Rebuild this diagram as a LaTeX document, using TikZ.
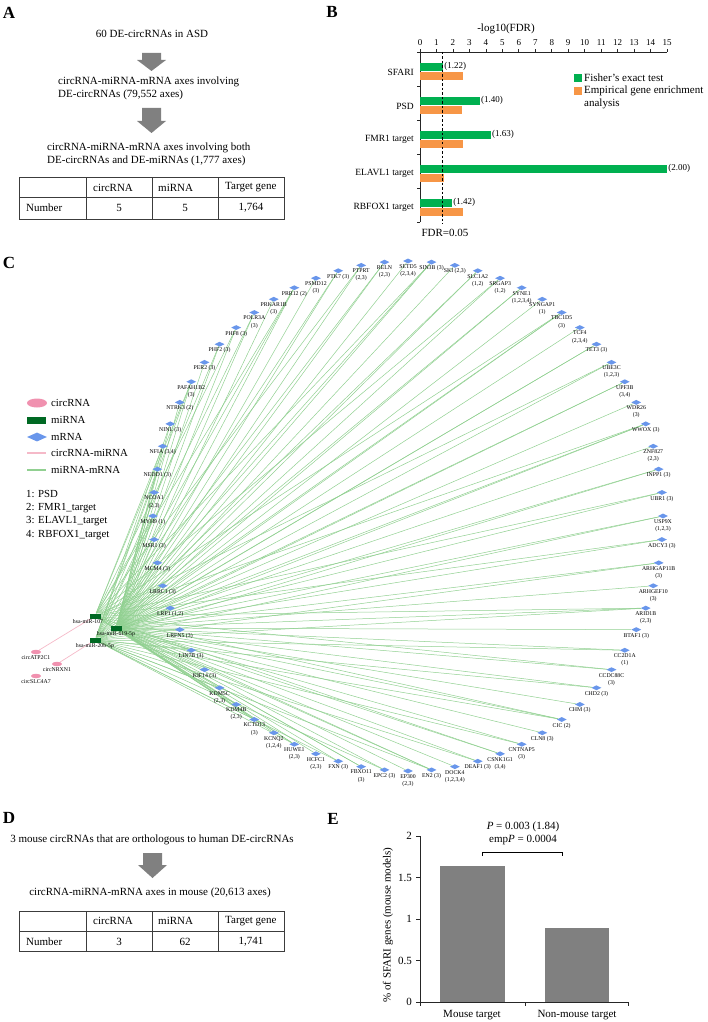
\documentclass[tikz,border=0pt]{standalone}
\usepackage{fontspec}
\setmainfont{Liberation Serif}
\usetikzlibrary{shapes.geometric,backgrounds}
\definecolor{fishgreen}{RGB}{0,176,80}
\definecolor{emporange}{RGB}{247,150,70}
\definecolor{circpink}{RGB}{240,145,175}
\definecolor{mirgreen}{RGB}{0,105,35}
\definecolor{mrnablue}{RGB}{105,150,235}
\definecolor{edgegreen}{RGB}{145,208,145}
\definecolor{edgepink}{RGB}{245,185,200}
\definecolor{arrowgray}{RGB}{128,128,128}
\definecolor{bargray}{RGB}{128,128,128}
\definecolor{tablegray}{RGB}{60,60,60}
\begin{document}
\begin{tikzpicture}[x=1pt,y=-1pt,
  panel/.style={font=\fontsize{17}{17}\selectfont\bfseries, inner sep=0},
  txt/.style={font=\fontsize{11}{13}\selectfont, inner sep=0},
  txtl/.style={font=\fontsize{11}{13}\selectfont, inner sep=0, align=left, anchor=west},
  tick/.style={font=\fontsize{9}{9}\selectfont, inner sep=0},
  cat/.style={font=\fontsize{9.5}{9.5}\selectfont, inner sep=0, anchor=east},
  val/.style={font=\fontsize{9}{9}\selectfont, inner sep=0, anchor=west},
  legtxt/.style={font=\fontsize{10.8}{10.8}\selectfont, inner sep=0, anchor=west},
  mrna/.style={diamond, fill=mrnablue, draw=none, minimum width=10pt, minimum height=5pt, inner sep=0},
  mirna/.style={rectangle, fill=mirgreen, draw=none, minimum width=11pt, minimum height=5pt, inner sep=0},
  circ/.style={ellipse, fill=circpink, draw=none, minimum width=10pt, minimum height=4.5pt, inner sep=0},
  mlab/.style={font=\fontsize{5.8}{7.2}\selectfont, inner sep=0.6pt, align=center, anchor=north},
  mmedge/.style={draw=edgegreen, line width=0.5pt},
  cmedge/.style={draw=edgepink, line width=0.7pt},
  tbl/.style={draw=tablegray, line width=0.9pt},
  axisline/.style={draw=black!85, line width=0.7pt}
]
\useasboundingbox (0,0) rectangle (708,1022);

% ---------------- Panel A ----------------
\node[panel] (pA) at (9,13) {A};
\node[txt] (a1) at (152,34) {60 DE-circRNAs in ASD};
\fill[arrowgray] (142,53) -- (161,53) -- (161,60) -- (166,60) -- (151.5,71) -- (137,60) -- (142,60) -- cycle;
\node[txtl] (a2) at (58,88.5) {circRNA-miRNA-mRNA axes involving\\DE-circRNAs (79,552 axes)};
\fill[arrowgray] (142,108) -- (161,108) -- (161,121) -- (166,121) -- (151.5,133) -- (137,121) -- (142,121) -- cycle;
\node[txtl] (a3) at (47,154) {circRNA-miRNA-mRNA axes involving both\\DE-circRNAs and DE-miRNAs (1,777 axes)};
\draw[tbl] (19,177) rectangle (284,219);
\draw[tbl] (19,197) -- (284,197);
\foreach \cx in {86,152,218} \draw[tbl] (\cx,177) -- (\cx,219);
\node[txt, anchor=west] (ah1) at (93,187.5) {circRNA};
\node[txt, anchor=west] (ah2) at (158,187.5) {miRNA};
\node[txt, anchor=west] (ah3) at (225,187.5) {Target gene};
\node[txt, anchor=west] (ar0) at (26,208) {Number};
\node[txt] (ar1) at (119,208) {5};
\node[txt] (ar2) at (185,208) {5};
\node[txt] (ar3) at (251,208) {1,764};

% ---------------- Panel B ----------------
\node[panel] (pB) at (332,12) {B};
\node[txt] (btitle) at (506,29) {-log10(FDR)};
\draw[axisline] (420,52) -- (667,52);
\draw[axisline] (420,52) -- (420,222);
\foreach \k in {0,...,15} {
  \draw[axisline] ({420+16.47*\k},52) -- ({420+16.47*\k},49);
  \node[tick] (bt\k) at ({420+16.47*\k},43) {\k};
}
\foreach \j in {0,...,5} \draw[axisline] (420,{52+34*\j}) -- (417,{52+34*\j});
% bars
\foreach \j/\g/\o in {0/1.4/2.6, 1/3.64/2.55, 2/4.3/2.6, 3/15/1.45, 4/1.95/2.6} {
  \fill[fishgreen] (420,{52+34*\j+11}) rectangle ({420+16.47*\g},{52+34*\j+19});
  \fill[emporange] (420,{52+34*\j+19.6}) rectangle ({420+16.47*\o},{52+34*\j+28});
}
\node[val] (bv0) at ({421+16.47*1.4},66) {(1.22)};
\node[val] (bv1) at ({421+16.47*3.64},100) {(1.40)};
\node[val] (bv2) at ({421+16.47*4.3},134) {(1.63)};
\node[val] (bv3) at ({421+16.47*15},168) {(2.00)};
\node[val] (bv4) at ({421+16.47*1.95},202) {(1.42)};
\node[cat] (bc0) at (414,72) {SFARI};
\node[cat] (bc1) at (414,106) {PSD};
\node[cat] (bc2) at (414,139) {FMR1 target};
\node[cat] (bc3) at (414,173) {ELAVL1 target};
\node[cat] (bc4) at (414,207) {RBFOX1 target};
\draw[black, line width=0.8pt, dash pattern=on 2.5pt off 2pt] (442,52) -- (442,224);
\node[txt] (bfdr) at (445,233) {FDR=0.05};
\fill[fishgreen] (574,74) rectangle (582,82);
\fill[emporange] (574,87) rectangle (582,95);
\node[txtl] (bl1) at (584,78) {Fisher's exact test};
\node[txtl] (bl2) at (584,97.5) {Empirical gene enrichment\\analysis};

% ---------------- Panel C ----------------
\node[panel] (pC) at (9,263) {C};
\node[ellipse, fill=circpink, minimum width=20pt, minimum height=9pt, inner sep=0] (lg1) at (37,403) {};
\node[legtxt] (lgt1) at (51,403) {circRNA};
\node[rectangle, fill=mirgreen, minimum width=19pt, minimum height=7pt, inner sep=0] (lg2) at (36.5,420) {};
\node[legtxt] (lgt2) at (51,419.5) {miRNA};
\node[diamond, fill=mrnablue, minimum width=20pt, minimum height=9pt, inner sep=0] (lg3) at (37,437) {};
\node[legtxt] (lgt3) at (51,436.5) {mRNA};
\coordinate (lp1) at (27,453); \coordinate (lp2) at (46,453);
\draw[draw=edgepink, line width=1.5pt] (lp1) -- (lp2);
\node[legtxt] (lgt4) at (51,453) {circRNA-miRNA};
\coordinate (lq1) at (27,470); \coordinate (lq2) at (46,470);
\draw[draw=edgegreen, line width=1.5pt] (lq1) -- (lq2);
\node[legtxt] (lgt5) at (51,470) {miRNA-mRNA};
\node[legtxt] (lk1) at (26,494) {1: PSD};
\node[legtxt] (lk2) at (26,508) {2: FMR1\_target};
\node[legtxt] (lk3) at (26,521.5) {3: ELAVL1\_target};
\node[legtxt] (lk4) at (26,535) {4: RBFOX1\_target};

% mRNA ring
\foreach \i/\txt in {
 0/{USP9X\\(1,2,3)}, 1/{UBR1 (3)}, 2/{INPP1 (3)}, 3/{ZNF827\\(2,3)}, 4/{WWOX (3)},
 5/{WDR26\\(3)}, 6/{UPF3B\\(3,4)}, 7/{UBE3C\\(1,2,3)}, 8/{TET3 (3)}, 9/{TCF4\\(2,3,4)},
 10/{TBC1D5\\(3)}, 11/{SYNGAP1\\(1)}, 12/{SYNE1\\(1,2,3,4)}, 13/{SRGAP3\\(1,2)}, 14/{SLC1A2\\(1,2)},
 15/{SKI (2,3)}, 16/{SIN3B (3)}, 17/{SETD5\\(2,3,4)}, 18/{RELN\\(2,3)}, 19/{PTPRT\\(2,3)},
 20/{PTK7 (3)}, 21/{PSMD12\\(3)}, 22/{PRR12 (2)}, 23/{PRKAR1B\\(3)}, 24/{POLR3A\\(3)},
 25/{PHF8 (3)}, 26/{PHF2 (3)}, 27/{PER2 (3)}, 28/{PAFAH1B2\\(3)}, 29/{NTRK3 (2)},
 30/{NINL (3)}, 31/{NFIA (3,4)}, 32/{NEDD1 (3)}, 33/{NCOA1\\(2,3)}, 34/{MYH9 (1)},
 35/{MSR1 (3)}, 36/{MCM4 (3)}, 37/{LRRC1 (3)}, 38/{LRP1 (1,2)}, 39/{LRFN5 (3)},
 40/{LIN7B (3)}, 41/{KIF14 (3)}, 42/{KDM5C\\(2,3)}, 43/{KDM4B\\(2,3)}, 44/{KCTD13\\(3)},
 45/{KCNQ2\\(1,2,4)}, 46/{HUWE1\\(2,3)}, 47/{HCFC1\\(2,3)}, 48/{FXN (3)}, 49/{FBXO11\\(3)},
 50/{EPC2 (3)}, 51/{EP300\\(2,3)}, 52/{EN2 (3)}, 53/{DOCK4\\(1,2,3,4)}, 54/{DEAF1 (3)},
 55/{CSNK1G1\\(3,4)}, 56/{CNTNAP5\\(3)}, 57/{CLN8 (3)}, 58/{CIC (2)}, 59/{CHM (3)},
 60/{CHD2 (3)}, 61/{CCDC88C\\(3)}, 62/{CC2D1A\\(1)}, 63/{BTAF1 (3)}, 64/{ARID1B\\(2,3)},
 65/{ARHGEF10\\(3)}, 66/{ARHGAP11B\\(3)}, 67/{ADCY3 (3)}} {
  \pgfmathsetmacro\ang{5.29412*\i}
  \node[mrna] (m\i) at ({408+255*cos(\ang)},{516-255*sin(\ang)}) {};
  \node[mlab] (t\i) at (m\i.south) {\txt};
}
% miRNAs
\node[mirna] (r107) at (95,616) {};
\node[mlab] (r107l) at ([xshift=-7pt]r107.south) {hsa-miR-107};
\node[mirna] (r619) at (116,628) {};
\node[mlab] (r619l) at (r619.south) {hsa-miR-619-5p};
\node[mirna] (r20b) at (95,640) {};
\node[mlab] (r20bl) at (r20b.south) {hsa-miR-20b-5p};
% circRNAs
\node[circ] (cATP) at (36,652) {};
\node[mlab] (cATPl) at (cATP.south) {circATP2C1};
\node[circ] (cNRX) at (57,664) {};
\node[mlab] (cNRXl) at (cNRX.south) {circNRXN1};
\node[circ] (cSLC) at (36,676) {};
\node[mlab] (cSLCl) at (cSLC.south) {circSLC4A7};
\begin{pgfonlayer}{background}
  \foreach \i in {0,...,67} \draw[mmedge] (r619) -- (m\i);
  \foreach \i in {0,2,...,66} \draw[mmedge] (r20b) -- (m\i);
  \foreach \i in {1,4,...,67} \draw[mmedge] (r107) -- (m\i);
  \draw[cmedge] (cATP) -- (r107);
  \draw[cmedge] (cNRX) -- (r20b);
\end{pgfonlayer}

% ---------------- Panel D ----------------
\node[panel] (pD) at (9,818) {D};
\node[txt] (d1) at (152,840) {3 mouse circRNAs that are orthologous to human DE-circRNAs};
\fill[arrowgray] (143,853) -- (162,853) -- (162,865) -- (167,865) -- (152.5,878) -- (138,865) -- (143,865) -- cycle;
\node[txt] (d2) at (150,893) {circRNA-miRNA-mRNA axes in mouse (20,613 axes)};
\draw[tbl] (19,911) rectangle (284,951);
\draw[tbl] (19,931) -- (284,931);
\foreach \cx in {86,152,218} \draw[tbl] (\cx,911) -- (\cx,951);
\node[txt, anchor=west] (dh1) at (93,921) {circRNA};
\node[txt, anchor=west] (dh2) at (158,921) {miRNA};
\node[txt, anchor=west] (dh3) at (225,921) {Target gene};
\node[txt, anchor=west] (dr0) at (26,941.5) {Number};
\node[txt] (dr1) at (119,941.5) {3};
\node[txt] (dr2) at (185,941.5) {62};
\node[txt] (dr3) at (251,941.5) {1,741};

% ---------------- Panel E ----------------
\node[panel] (pE) at (333,819) {E};
\node[txt] (eP) at (523,827) {\textit{P} = 0.003 (1.84)};
\node[txt] (eE) at (523,840) {emp\textit{P} = 0.0004};
\draw[black, line width=0.7pt] (482,856) -- (482,852) -- (562,852) -- (562,856);
\fill[bargray] (440,{1002-83*1.64}) rectangle (505,1002);
\fill[bargray] (545,{1002-83*0.89}) rectangle (609,1002);
\draw[axisline] (420,836) -- (420,1002) -- (628,1002);
\foreach \v/\lab in {0/0, 0.5/0.5, 1/1, 1.5/1.5, 2/2} {
  \draw[axisline] (420,{1002-83*\v}) -- (416,{1002-83*\v});
  \node[txt, anchor=east] (ey\lab) at (412,{1002-83*\v}) {\lab};
}
\foreach \xx in {420,525,628} \draw[axisline] (\xx,1002) -- (\xx,1006);
\node[txt] (ex1) at (472,1015) {Mouse target};
\node[txt] (ex2) at (577,1015) {Non-mouse target};
\node[txt, rotate=90] (eyt) at (388,925) {\% of SFARI genes (mouse models)};
\end{tikzpicture}
\end{document}
